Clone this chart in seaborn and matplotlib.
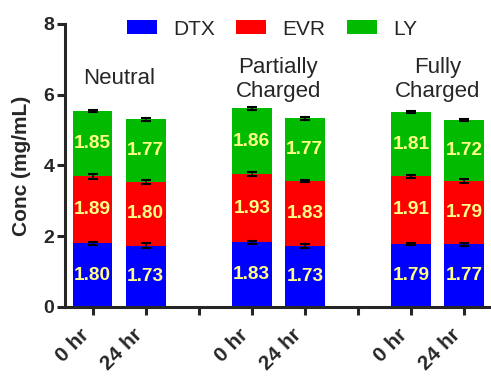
import matplotlib
matplotlib.use("Agg")
import matplotlib.pyplot as plt
import seaborn as sns
import pandas as pd
import numpy as np

sns.set_style("ticks")
plt.rcParams["font.family"] = ["Liberation Sans", "DejaVu Sans"]

# Sample groups and time points
groups = ["Neutral", "Neutral", "Partially\nCharged", "Partially\nCharged",
          "Fully\nCharged", "Fully\nCharged"]
times = ["0 hr", "24 hr", "0 hr", "24 hr", "0 hr", "24 hr"]
slots = ["N0", "N24", "P0", "P24", "F0", "F24"]
order = ["N0", "N24", "gap1", "P0", "P24", "gap2", "F0", "F24"]
tick_labels = ["0 hr", "24 hr", "", "0 hr", "24 hr", "", "0 hr", "24 hr"]

# Drug concentrations (mg/mL)
dtx = [1.80, 1.73, 1.83, 1.73, 1.79, 1.77]
evr = [1.89, 1.80, 1.93, 1.83, 1.91, 1.79]
ly = [1.85, 1.77, 1.86, 1.77, 1.81, 1.72]

# Standard deviations at each stacked level
dtx_err = [0.05, 0.07, 0.04, 0.05, 0.03, 0.04]
evr_err = [0.07, 0.06, 0.05, 0.02, 0.04, 0.06]
ly_err = [0.03, 0.03, 0.04, 0.05, 0.04, 0.02]

colors = {"DTX": "#0000FF", "EVR": "#FF0000", "LY": "#00BB00"}

df = pd.DataFrame({"slot": slots, "DTX": dtx, "EVR": evr, "LY": ly})
df["lvl1"] = df["DTX"]
df["lvl2"] = df["DTX"] + df["EVR"]
df["lvl3"] = df["lvl2"] + df["LY"]

fig = plt.figure(figsize=(4.91, 3.77), dpi=100)
ax = fig.add_axes([0.1334, 0.1857, 0.8656, 0.7507])

for col, name in [("lvl3", "LY"), ("lvl2", "EVR"), ("lvl1", "DTX")]:
    sns.barplot(data=df, x="slot", y=col, order=order, color=colors[name],
                width=0.75, saturation=1, ax=ax, label=name, errorbar=None,
                edgecolor="none")

pos = [order.index(s) for s in slots]
for col, err in [("lvl1", dtx_err), ("lvl2", evr_err), ("lvl3", ly_err)]:
    ax.errorbar(pos, df[col], yerr=err, fmt="none", ecolor="black",
                elinewidth=1.2, capsize=3.8, capthick=1.5, zorder=5)

# Segment value labels
txt_kw = dict(ha="center", va="center", color="#FFFF88", fontsize=13.7,
              fontweight="bold", zorder=6)
for i, p in enumerate(pos):
    ax.text(p, df["lvl1"][i] / 2, f"{dtx[i]:.2f}", **txt_kw)
    ax.text(p, df["lvl1"][i] + evr[i] / 2, f"{evr[i]:.2f}", **txt_kw)
    ax.text(p, df["lvl2"][i] + ly[i] / 2, f"{ly[i]:.2f}", **txt_kw)

# Group titles above each pair of bars (baseline of last line)
title_y = {"Neutral": 6.31, "Partially\nCharged": 5.93, "Fully\nCharged": 5.93}
for g, yb in title_y.items():
    idx = [pos[i] for i in range(len(groups)) if groups[i] == g]
    ax.text(np.mean(idx), yb, g, ha="center", va="baseline", fontsize=16,
            linespacing=1.2)

ax.set_ylim(0, 8)
ax.set_xlim(-0.51, 7.5)
ax.set_yticks([0, 2, 4, 6, 8])
ax.set_xticks(range(len(order)))
ax.set_xticklabels(tick_labels, rotation=45, ha="right", va="bottom",
                   rotation_mode="anchor", fontsize=15, fontweight="bold")
for lab in ax.get_yticklabels():
    lab.set_fontsize(14)
    lab.set_fontweight("bold")
ax.set_xlabel("")
ax.set_ylabel("Conc (mg/mL)", fontsize=15, fontweight="bold", labelpad=9)

for s in ["top", "right"]:
    ax.spines[s].set_visible(False)
for s in ["left", "bottom"]:
    ax.spines[s].set_linewidth(2.2)
ax.tick_params(axis="both", width=2.2, length=6, direction="out")
ax.tick_params(axis="x", pad=17)
ax.tick_params(axis="y", pad=2)

handles, labels = ax.get_legend_handles_labels()
hmap = dict(zip(labels, handles))
ax.legend([hmap["DTX"], hmap["EVR"], hmap["LY"]], ["DTX", "EVR", "LY"],
          loc="center", bbox_to_anchor=(0.554, 0.923),
          bbox_transform=fig.transFigure, ncol=3, frameon=False, fontsize=15,
          handlelength=1.44, handleheight=0.67, columnspacing=1.0,
          handletextpad=0.8, borderpad=0.1)

fig.savefig("out.png", dpi=100)
